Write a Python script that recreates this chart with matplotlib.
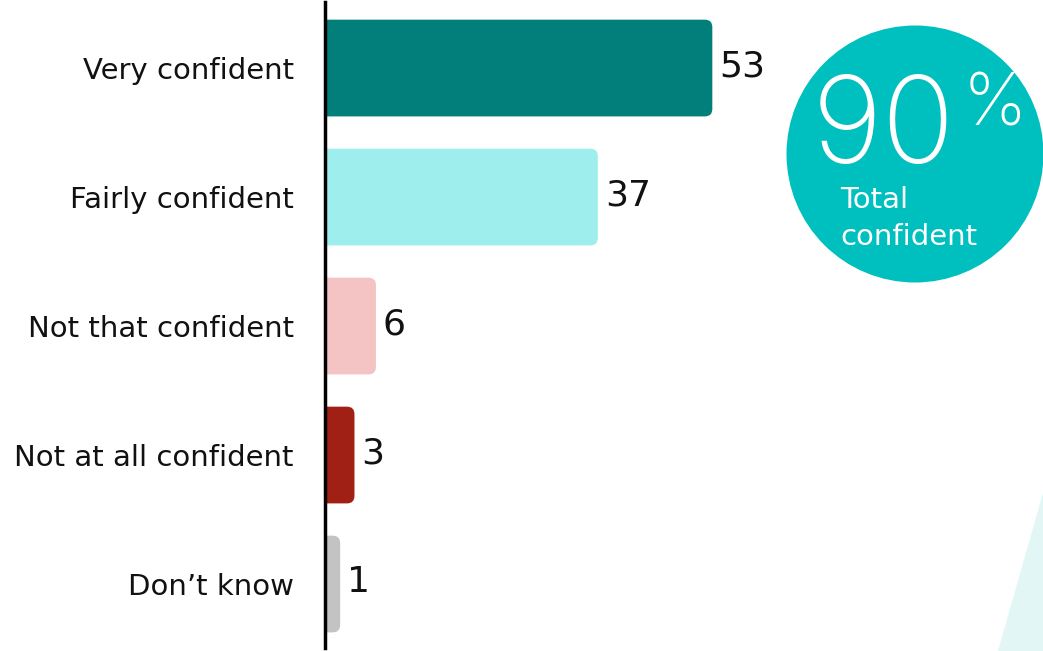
import matplotlib.pyplot as plt
from matplotlib.patches import FancyBboxPatch, Circle, Polygon

# survey answers, percent
categories = ["Very confident", "Fairly confident", "Not that confident",
              "Not at all confident", "Don\u2019t know"]
values = [53, 37, 6, 3, 1]
colors = ["#037f7b", "#9eeeee", "#f4c4c4", "#a02016", "#c3c3c3"]
total_label = "90"

plt.rcParams['font.family'] = ['DejaVu Sans']

W, H = 1043, 651
fig = plt.figure(figsize=(W / 100, H / 100), dpi=100)

# main bar axes, pixel placement
left, bottom, top = 324.5, 3, 649
ax = fig.add_axes([left / W, bottom / H, (W - left) / W, (top - bottom) / H])
px_x = 7.157   # pixels per percent
x0 = -(333 - left) / px_x
ax.set_xlim(x0, x0 + (W - left) / px_x)
ax.set_ylim(4.496, -0.512)

px_y = 129.0   # pixels per row
bar_h = 0.75
r = 7.5        # corner radius, px

for i, (cat, v, c) in enumerate(zip(categories, values, colors)):
    p = FancyBboxPatch((x0 - 3, i - bar_h / 2), v - x0 + 3, bar_h,
                       boxstyle=f"round,pad=0,rounding_size={r / px_x}",
                       mutation_aspect=(px_x / px_y),
                       facecolor=c, edgecolor="none")
    ax.add_patch(p)
    ax.text(v + 7 / px_x, i - 0.015, str(v), ha="left", va="center",
            fontsize=26, color="#111111")

ax.set_yticks(range(len(categories)))
ax.set_yticklabels(categories, fontsize=21, color="#111111")
ax.tick_params(axis="y", length=0, pad=22)
ax.set_xticks([])
for s in ["top", "right", "bottom"]:
    ax.spines[s].set_visible(False)
ax.spines["left"].set_linewidth(2.5)
ax.spines["left"].set_color("#000000")
ax.patch.set_alpha(0)

# background decoration
ov = fig.add_axes([0, 0, 1, 1], zorder=-1)
ov.set_xlim(0, W)
ov.set_ylim(H, 0)
ov.axis("off")
ov.add_patch(Polygon([(998, 651), (1043, 493), (1043, 651)],
                     closed=True, facecolor="#e2f6f6", edgecolor="none"))

# total badge
ov2 = fig.add_axes([0, 0, 1, 1], zorder=5)
ov2.set_xlim(0, W)
ov2.set_ylim(H, 0)
ov2.axis("off")
ov2.patch.set_alpha(0)
ov2.add_patch(Circle((915, 154), 128.5, facecolor="#00bfbf", edgecolor="none"))
ov2.text(884, 131, total_label, ha="center", va="center", fontsize=87,
         color="white", fontweight="light", family=["Inter", "DejaVu Sans"])
ov2.text(995, 106, "%", ha="center", va="center", fontsize=52,
         color="white", fontweight="light", family=["Inter", "DejaVu Sans"])
ov2.text(840, 200, "Total", ha="left", va="center", fontsize=21, color="white")
ov2.text(840, 237, "confident", ha="left", va="center", fontsize=21, color="white")

fig.savefig("out.png", dpi=100)
